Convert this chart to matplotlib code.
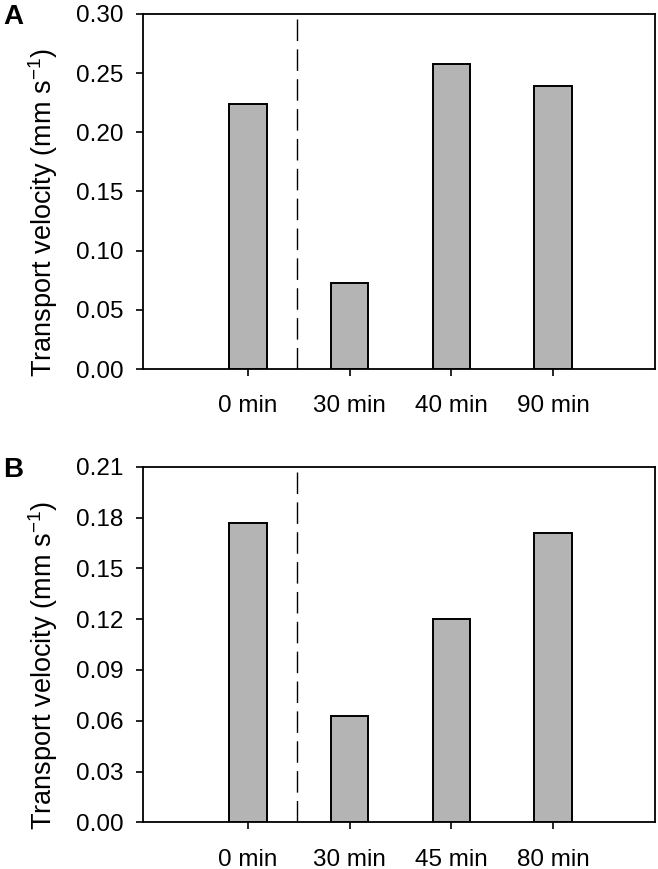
import matplotlib
matplotlib.use("Agg")
import matplotlib.pyplot as plt

plt.rcParams['font.family'] = ['Liberation Sans', 'DejaVu Sans']

cats_a = ["0 min", "30 min", "40 min", "90 min"]
vals_a = [0.224, 0.073, 0.258, 0.239]
yticks_a = [0.00, 0.05, 0.10, 0.15, 0.20, 0.25, 0.30]

cats_b = ["0 min", "30 min", "45 min", "80 min"]
vals_b = [0.177, 0.063, 0.120, 0.171]
yticks_b = [0.00, 0.03, 0.06, 0.09, 0.12, 0.15, 0.18, 0.21]

fig = plt.figure(figsize=(6.58, 8.69), dpi=100)
W, H = 658, 869

def make_axes(top_px, bottom_px):
    left, right = 143, 655
    return fig.add_axes([left / W, 1 - bottom_px / H, (right - left) / W, (bottom_px - top_px) / H])

ax_a = make_axes(14, 369)
ax_b = make_axes(466.7, 822.3)

fs = 17.5
for ax, cats, vals, yt, lab in [(ax_a, cats_a, vals_a, yticks_a, "A"),
                                 (ax_b, cats_b, vals_b, yticks_b, "B")]:
    x = list(range(len(cats)))
    ax.bar(x, vals, width=0.37, color="#b4b4b4", edgecolor="black", linewidth=1.4, zorder=3)
    ax.axvline(0.48, color="black", linestyle=(0, (15.5, 6)), linewidth=1.0, zorder=2)
    ax.set_xlim(-1.03, 4.0)
    ax.set_ylim(yt[0], yt[-1])
    ax.set_yticks(yt)
    ax.set_yticklabels([f"{v:.2f}" for v in yt], fontsize=fs)
    ax.set_xticks(x)
    ax.set_xticklabels(cats, fontsize=fs)
    ax.tick_params(axis="both", direction="out", length=5, width=1.2)
    ax.tick_params(axis="y", pad=9)
    ax.tick_params(axis="x", pad=14)
    for s in ax.spines.values():
        s.set_linewidth(1.3)
    ax.set_ylabel("Transport velocity (mm s$^{\\mathregular{-1}}$)", fontsize=19.5)
    ax.yaxis.set_label_coords(-0.162, 0.44)
    pos = ax.get_position()
    fig.text(3 / W, pos.y1 + 10 / H, lab, fontsize=20, fontweight="bold", va="top", ha="left")

fig.savefig("out.png", dpi=100)
